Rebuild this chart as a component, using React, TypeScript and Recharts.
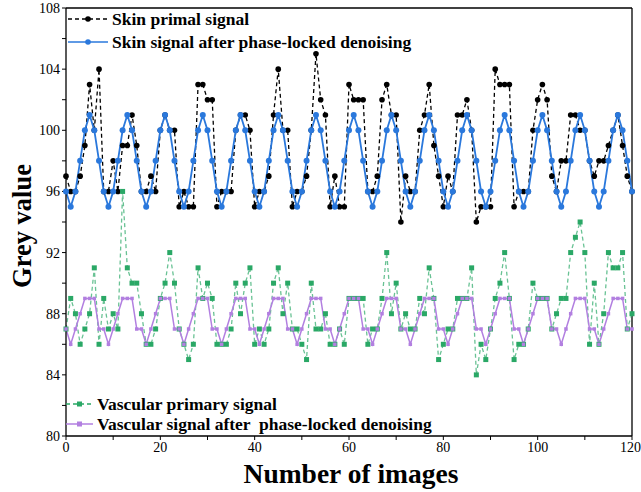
import React from "react";
import { LineChart, Line, XAxis, YAxis, ReferenceLine } from "recharts";

// grey values per image index 0..120
const skinPrimal = [
  97, 96, 96, 97, 99, 103, 100, 104, 96, 96, 98, 96, 99, 99, 101, 99, 96, 96, 97, 96,
  100, 101, 100, 100, 95, 96, 95, 95, 103, 103, 102, 102, 95, 96, 96, 96, 100, 101, 101, 100,
  95, 96, 96, 97, 101, 104, 100, 100, 95, 96, 96, 97, 100, 105, 102, 101, 95, 97, 95, 95,
  103, 102, 102, 102, 96, 96, 97, 102, 103, 101, 101, 94, 97, 96, 96, 100, 101, 103, 99, 97,
  95, 97, 96, 101, 101, 102, 100, 94, 95, 95, 95, 104, 103, 103, 103, 95, 96, 96, 96, 100,
  102, 103, 102, 97, 96, 98, 98, 101, 101, 100, 100, 98, 97, 98, 98, 99, 100, 101, 99, 97,
  96
];
const skinDenoised = [
  96, 95, 96, 98, 100, 101, 100, 98, 96, 95, 96, 98, 100, 101, 100, 98, 96, 95, 96, 98,
  100, 101, 100, 98, 96, 95, 96, 98, 100, 101, 100, 98, 96, 95, 96, 98, 100, 101, 100, 98,
  96, 95, 96, 98, 100, 101, 100, 98, 96, 95, 96, 98, 100, 101, 100, 98, 96, 95, 96, 98,
  100, 101, 100, 98, 96, 95, 96, 98, 100, 101, 100, 98, 96, 95, 96, 98, 100, 101, 100, 98,
  96, 95, 96, 98, 100, 101, 100, 98, 96, 95, 96, 98, 100, 101, 100, 98, 96, 95, 96, 98,
  100, 101, 100, 98, 96, 95, 96, 98, 100, 101, 100, 98, 96, 95, 96, 98, 100, 101, 100, 98,
  96
];
const vascPrimary = [
  87, 89, 88, 86, 87, 88, 91, 86, 89, 87, 88, 87, 96, 91, 90, 90, 88, 86, 86, 87,
  89, 90, 92, 90, 87, 86, 85, 86, 91, 89, 90, 89, 86, 86, 86, 87, 90, 88, 90, 91,
  86, 87, 86, 87, 90, 91, 88, 90, 87, 87, 86, 85, 90, 87, 87, 88, 86, 86, 87, 86,
  89, 89, 89, 89, 86, 87, 87, 89, 92, 88, 90, 87, 88, 87, 87, 89, 88, 91, 89, 85,
  86, 87, 87, 89, 89, 89, 91, 84, 86, 85, 87, 89, 90, 92, 89, 85, 86, 86, 87, 90,
  89, 89, 89, 87, 88, 89, 89, 92, 93, 94, 92, 86, 90, 86, 88, 92, 91, 91, 92, 87,
  88
];
const vascDenoised = [
  87, 86, 87, 88, 89, 89, 89, 87, 87, 86, 87, 88, 89, 89, 89, 87, 87, 86, 87, 88,
  89, 89, 89, 87, 87, 86, 87, 88, 89, 89, 89, 87, 87, 86, 87, 88, 89, 89, 89, 87,
  87, 86, 87, 88, 89, 89, 89, 87, 87, 86, 87, 88, 89, 89, 89, 87, 87, 86, 87, 88,
  89, 89, 89, 87, 87, 86, 87, 88, 89, 89, 89, 87, 87, 86, 87, 88, 89, 89, 89, 87,
  87, 86, 87, 88, 89, 89, 89, 87, 87, 86, 87, 88, 89, 89, 89, 87, 87, 86, 87, 88,
  89, 89, 89, 87, 87, 86, 87, 88, 89, 89, 89, 87, 87, 86, 87, 88, 89, 89, 89, 87,
  87
];
const xTicks = [0, 10, 20, 30, 40, 50, 60, 70, 80, 90, 100, 110, 120];
const yTicks = [80, 82, 84, 86, 88, 90, 92, 94, 96, 98, 100, 102, 104, 106, 108];

const data = skinPrimal.map((v, i) => ({
  n: i,
  skinPrimal: v,
  skinDenoised: skinDenoised[i],
  vascPrimary: vascPrimary[i],
  vascDenoised: vascDenoised[i]
}));

const BLACK = "#000000";
const BLUE = "#2a78dc";
const GREEN = "#2aa866";
const PURPLE = "#b27fe0";
const serif = "'Liberation Serif', 'Times New Roman', serif";

const squareDot = (size: number, color: string) => (props: any) => {
  const { cx, cy, index } = props;
  if (cx == null || cy == null) return <g key={index} />;
  return (
    <rect
      key={index}
      x={cx - size / 2}
      y={cy - size / 2}
      width={size}
      height={size}
      fill={color}
    />
  );
};

function Sample({ color, dash, marker, w }: any) {
  return (
    <svg width={w} height={12} style={{ display: "block" }}>
      <line x1={0} y1={6} x2={w} y2={6} stroke={color} strokeWidth={1.5} strokeDasharray={dash} />
      {marker === "circle" ? (
        <circle cx={w / 2} cy={6} r={2.8} fill={color} />
      ) : (
        <rect x={w / 2 - 2.5} y={3.5} width={5} height={5} fill={color} />
      )}
    </svg>
  );
}

const legendText: React.CSSProperties = {
  position: "absolute",
  fontFamily: serif,
  fontWeight: "bold",
  fontSize: 17.5,
  lineHeight: "18px",
  whiteSpace: "pre",
  color: "#000"
};

export default function App() {
  return (
    <div style={{ position: "absolute", left: 0, top: 0, width: 641, height: 492, background: "#fff" }}>
      <LineChart
        width={641}
        height={492}
        data={data}
        margin={{ top: 8, right: 9, left: 0, bottom: 0 }}
      >
        <XAxis
          dataKey="n"
          type="number"
          domain={[0, 120]}
          ticks={xTicks}
          tickFormatter={(v: number) => (v % 20 === 0 ? String(v) : "")}
          height={56}
          tickSize={4}
          axisLine={{ stroke: BLACK, strokeWidth: 1.3 }}
          tickLine={{ stroke: BLACK }}
          tick={{ fill: BLACK, fontSize: 14, fontFamily: serif }}
        />
        <YAxis
          type="number"
          domain={[80, 108]}
          ticks={yTicks}
          tickFormatter={(v: number) => (v % 4 === 0 ? String(v) : "")}
          width={66}
          tickSize={4}
          axisLine={{ stroke: BLACK, strokeWidth: 1.3 }}
          tickLine={{ stroke: BLACK }}
          tick={{ fill: BLACK, fontSize: 14, fontFamily: serif }}
        />
        <ReferenceLine y={108} stroke={BLACK} strokeWidth={1.3} />
        <ReferenceLine x={120} stroke={BLACK} strokeWidth={1.3} />
        <Line
          dataKey="skinPrimal"
          stroke={BLACK}
          strokeWidth={1.3}
          strokeDasharray="4 3"
          dot={{ r: 2.8, fill: BLACK, stroke: "none" }}
          isAnimationActive={false}
        />
        <Line
          dataKey="skinDenoised"
          stroke={BLUE}
          strokeWidth={1.8}
          dot={{ r: 3, fill: BLUE, stroke: "none" }}
          isAnimationActive={false}
        />
        <Line
          dataKey="vascPrimary"
          stroke={GREEN}
          strokeOpacity={0.7}
          strokeWidth={1.3}
          strokeDasharray="4 3"
          dot={squareDot(5, GREEN)}
          isAnimationActive={false}
        />
        <Line
          dataKey="vascDenoised"
          stroke={PURPLE}
          strokeWidth={1.5}
          dot={squareDot(3.5, PURPLE)}
          isAnimationActive={false}
        />
      </LineChart>

      {/* top legend */}
      <div style={{ position: "absolute", left: 68, top: 13 }}>
        <Sample color={BLACK} dash="4 3" marker="circle" w={40} />
      </div>
      <div style={{ ...legendText, left: 112, top: 10 }}>Skin primal signal</div>
      <div style={{ position: "absolute", left: 68, top: 36 }}>
        <Sample color={BLUE} marker="circle" w={40} />
      </div>
      <div style={{ ...legendText, left: 112, top: 33 }}>Skin signal after phase-locked denoising</div>

      {/* bottom legend */}
      <div style={{ position: "absolute", left: 66, top: 398 }}>
        <Sample color={GREEN} dash="4 3" marker="square" w={27} />
      </div>
      <div style={{ ...legendText, left: 97, top: 395 }}>Vascular primary signal</div>
      <div style={{ position: "absolute", left: 66, top: 418 }}>
        <Sample color={PURPLE} marker="square" w={27} />
      </div>
      <div style={{ ...legendText, left: 97, top: 415 }}>Vascular signal after  phase-locked denoising</div>

      {/* axis titles */}
      <div
        style={{
          position: "absolute",
          left: 22,
          top: 226,
          transform: "translate(-50%, -50%) rotate(-90deg)",
          fontFamily: serif,
          fontWeight: "bold",
          fontSize: 26.5,
          whiteSpace: "nowrap",
          color: "#000"
        }}
      >
        Grey value
      </div>
      <div
        style={{
          position: "absolute",
          left: 351,
          top: 474,
          transform: "translate(-50%, -50%)",
          fontFamily: serif,
          fontWeight: "bold",
          fontSize: 27.5,
          whiteSpace: "nowrap",
          color: "#000"
        }}
      >
        Number of images
      </div>
    </div>
  );
}
